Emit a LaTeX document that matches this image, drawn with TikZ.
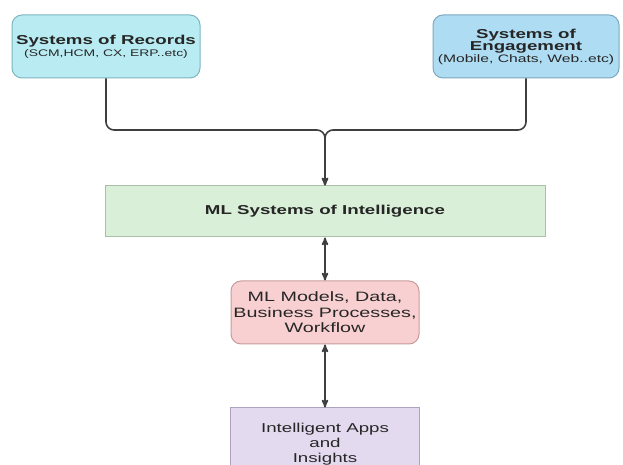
\documentclass[tikz,border=0pt]{standalone}
\usepackage{fontspec}
\setmainfont{Liberation Sans}[FakeStretch=1.45]
\usepackage{tikz}
\usetikzlibrary{arrows}
\usetikzlibrary{positioning}
\definecolor{recfill}{HTML}{B9ECF2}
\definecolor{recline}{HTML}{7DB6BE}
\definecolor{engfill}{HTML}{AEDCF3}
\definecolor{engline}{HTML}{7EA8BF}
\definecolor{soifill}{HTML}{D9EFD7}
\definecolor{soiline}{HTML}{A9BFA7}
\definecolor{mdlfill}{HTML}{F9D0D1}
\definecolor{mdlline}{HTML}{C79B9C}
\definecolor{appfill}{HTML}{E3DAEF}
\definecolor{appline}{HTML}{ADA3BC}
\definecolor{conncol}{HTML}{3F3F3F}
\tikzset{
    sysbox/.style={
           rectangle,
           draw, line width=1pt,
           inner sep=2pt,
           align=center,
           text=black!85,
           },
    roundbox/.style={
           sysbox,
           rounded corners=10pt,
           },
    conn/.style={
           draw=conncol, line width=1.6pt,
           rounded corners=8pt,
           },
}

\begin{document}
\begin{tikzpicture}[>=stealth']

 \useasboundingbox (0,0) rectangle (623pt,465pt);

 % top row: the two sources
 \node[roundbox, fill=recfill, draw=recline,
  minimum width=188pt, minimum height=63pt] (REC) at (106pt,418.5pt)
 {\textbf{\fontsize{12.9}{15}\selectfont Systems of Records}\\
  {\fontsize{9.6}{12}\selectfont (SCM,HCM, CX, ERP..etc)}};

 \node[roundbox, fill=engfill, draw=engline,
  minimum width=186pt, minimum height=63pt] (ENG) at (526pt,418.5pt)
 {\textbf{\fontsize{12.9}{13.5}\selectfont Systems of}\\
  \textbf{\fontsize{12.9}{13.5}\selectfont Engagement}\\
  {\fontsize{10.8}{14.5}\selectfont (Mobile, Chats, Web..etc)}};

 % middle: intelligence layer
 \node[sysbox, fill=soifill, draw=soiline,
  minimum width=440pt, minimum height=51pt] (SOI) at (325pt,253.5pt)
 {\textbf{\fontsize{12.9}{15}\selectfont ML Systems of Intelligence}};

 % models box below
 \node[roundbox, fill=mdlfill, draw=mdlline,
  minimum width=188pt, minimum height=63pt,
  font=\fontsize{13.6}{15.6}\selectfont,
  below=43pt of SOI] (MDL)
 {ML Models, Data,\\ Business Processes,\\ Workflow};

 % apps box, runs off the bottom edge
 \node[sysbox, fill=appfill, draw=appline,
  minimum width=189pt, minimum height=72pt,
  font=\fontsize{12.9}{15}\selectfont,
  below=63pt of MDL] (APP)
 {Intelligent Apps\\ and\\ Insights};

 % merge point above the intelligence box
 \coordinate (MRG) at (325pt,335pt);

 % connectors
 \draw[conn,->] (REC.south) |- (MRG) -- (SOI.north);
 \draw[conn,->] (ENG.south) |- (MRG) -- (SOI.north);
 \draw[conn,<->] (SOI.south) -- (MDL.north);
 \draw[conn,<->] (MDL.south) -- (APP.north);

\end{tikzpicture}
\end{document}
